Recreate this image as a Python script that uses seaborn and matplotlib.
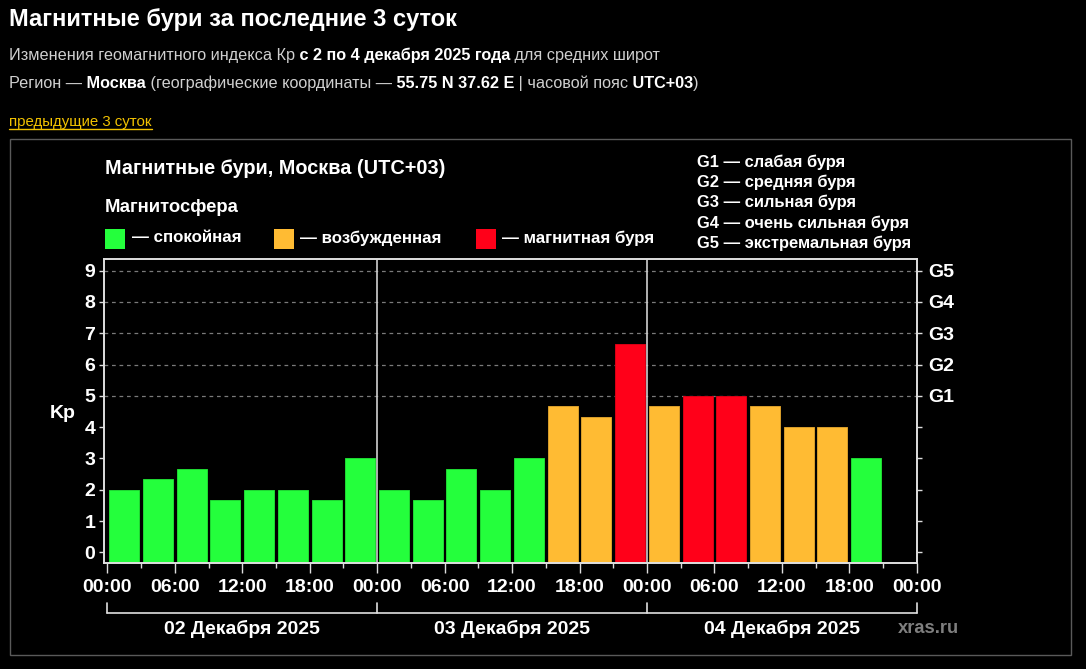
import pandas as pd
import seaborn as sns
import matplotlib.pyplot as plt
import matplotlib.colors as mcolors
from matplotlib.patches import Rectangle
from matplotlib.lines import Line2D
import matplotlib.transforms as mtransforms

# Kp index, 3-hour intervals, 2-4 Dec 2025 (Moscow, UTC+03)
kp_values = [2, 2.33, 2.67, 1.67, 2, 2, 1.67, 3,
             2, 1.67, 2.67, 2, 3, 4.67, 4.33, 6.67,
             4.67, 5, 5, 4.67, 4, 4, 3]
hour_ticks = [0, 6, 12, 18, 24, 30, 36, 42, 48, 54, 60, 66, 72]
hour_labels = ['00:00', '06:00', '12:00', '18:00'] * 3 + ['00:00']
day_bounds = [0, 24, 48, 72]
day_labels = ['02 Декабря 2025', '03 Декабря 2025', '04 Декабря 2025']
storm_labels = ['G1', 'G2', 'G3', 'G4', 'G5']
storm_names = ['G1 — слабая буря', 'G2 — средняя буря', 'G3 — сильная буря',
               'G4 — очень сильная буря', 'G5 — экстремальная буря']
state_keys = ['calm', 'active', 'storm']
state_names = ['— спокойная', '— возбужденная', '— магнитная буря']

palette = {'calm': '#24ff3c', 'active': '#ffbb33', 'storm': '#ff0019'}


def kp_state(v):
    if v < 4:
        return 'calm'
    if v < 5:
        return 'active'
    return 'storm'


df = pd.DataFrame({
    'hour': [3 * i + 1.5 for i in range(len(kp_values))],
    'kp': kp_values,
    'state': [kp_state(v) for v in kp_values],
})

sns.set_theme(style='dark')
plt.rcParams['font.family'] = ['Liberation Sans', 'DejaVu Sans']
plt.rcParams['axes.facecolor'] = 'black'
plt.rcParams['figure.facecolor'] = 'black'

W, H = 1086, 669
fig = plt.figure(figsize=(W / 100, H / 100), dpi=100)
ax = fig.add_axes([104 / W, 1 - 562.7 / H, (917.3 - 104) / W, (562.7 - 259.3) / H])

y0, y1 = -0.33, 9.36
tick_fs = 14

# G-level dashed lines and day separators
for g in range(5, 10):
    ax.axhline(g, color='#7a7a7a', lw=0.9, ls=(0, (3, 3)), zorder=0)
for d in day_bounds[1:-1]:
    ax.axvline(d, color='#d0d0d0', lw=1.2, zorder=3)

sns.barplot(data=df, x='hour', y='kp', hue='state', palette=palette,
            native_scale=True, dodge=False, width=0.89, saturation=1,
            legend=False, ax=ax, zorder=2)

# bars run down to the axis line
for p in ax.patches:
    h = p.get_height()
    p.set_y(y0)
    p.set_height(h - y0)
    fc = mcolors.to_rgb(p.get_facecolor())
    p.set_edgecolor(tuple(c * 0.85 for c in fc))
    p.set_linewidth(0.7)

ax.set_xlim(-0.3, 72.05)
ax.set_ylim(y0, y1)
ax.set_xlabel('')
ax.set_ylabel('')
ax.grid(False)

ax.set_yticks(range(10))
ax.set_yticklabels([str(i) for i in range(10)], fontsize=tick_fs, fontweight='bold', color='white')
ax.set_xticks(hour_ticks)
ax.set_xticklabels(hour_labels, fontsize=tick_fs, fontweight='bold', color='white')
ax.set_xticks([h + 3 for h in hour_ticks[:-1]], minor=True)
ax.tick_params(axis='x', which='major', length=7.2, width=1, color='#dddddd', pad=4.5, bottom=True)
ax.tick_params(axis='x', which='minor', length=3.6, width=1, color='#dddddd', bottom=True)
ax.tick_params(axis='y', length=3.3, width=1, color='#dddddd', pad=3, left=True)
for s in ax.spines.values():
    s.set_color('#e0e0e0')
    s.set_linewidth(1.2)

ax2 = ax.twinx()
ax2.set_ylim(y0, y1)
ax2.set_yticks(range(10))
ax2.set_yticklabels([''] * 5 + storm_labels, fontsize=tick_fs, fontweight='bold', color='white')
ax2.tick_params(axis='y', length=3.3, width=1, color='#dddddd', pad=4.3, right=True)
ax2.grid(False)
for s in ax2.spines.values():
    s.set_color('#e0e0e0')
    s.set_linewidth(1.2)

# date brackets under the time axis
trans = mtransforms.blended_transform_factory(ax.transData, ax.transAxes)
yb = (562.7 - 613) / (562.7 - 259.3)
yt = (562.7 - 603) / (562.7 - 259.3)
yl = (562.7 - 628.5) / (562.7 - 259.3)
ax.plot([day_bounds[0], day_bounds[-1]], [yb, yb], color='#e0e0e0', lw=1.2, transform=trans, clip_on=False)
for d in day_bounds:
    ax.plot([d, d], [yb, yt], color='#e0e0e0', lw=1.2, transform=trans, clip_on=False)
for i, lab in enumerate(day_labels):
    ax.text((day_bounds[i] + day_bounds[i + 1]) / 2, yl, lab, transform=trans,
            ha='center', va='center', fontsize=tick_fs, fontweight='bold', color='white')


def fx(px):
    return px / W


def fy(py):
    return 1 - py / H


fig.text(fx(898), fy(628.5), 'xras.ru', fontsize=13.2, fontweight='bold', color='#7f7f7f', va='center')
fig.text(fx(62.5), fy(414), 'Kp', fontsize=tick_fs, fontweight='bold', color='white', ha='center', va='center')

# chart header
fig.text(fx(105), fy(169), 'Магнитные бури, Москва (UTC+03)', fontsize=14.3, fontweight='bold', color='white', va='center')
fig.text(fx(105), fy(208), 'Магнитосфера', fontsize=13.3, fontweight='bold', color='white', va='center')
legend_x = [105, 273.5, 475.5]
for k, name, lx in zip(state_keys, state_names, legend_x):
    fig.add_artist(Rectangle((fx(lx), fy(249)), 20 / W, 20 / H, transform=fig.transFigure,
                             facecolor=palette[k], edgecolor='none'))
    fig.text(fx(lx + 27), fy(238), name, fontsize=12.2, fontweight='bold', color='white', va='center')
for i, name in enumerate(storm_names):
    fig.text(fx(697), fy(162 + 20.3 * i), name, fontsize=11.9, fontweight='bold', color='white', va='center')

# outer frame
fig.add_artist(Rectangle((fx(9.5), fy(655)), (1071 - 9.5) / W, (655 - 139) / H, transform=fig.transFigure,
                         facecolor='none', edgecolor='#5a5a5a', lw=1))

# page header
fig.text(fx(9), fy(26), 'Магнитные бури за последние 3 суток', fontsize=17, fontweight='bold',
         color='white', va='baseline')

renderer = fig.canvas.get_renderer()


def rich_line(x_px, y_px, parts, size):
    x = x_px
    for s, bold in parts:
        t = fig.text(fx(x), fy(y_px), s, fontsize=size, va='baseline',
                     fontweight='bold' if bold else 'normal',
                     color='white' if bold else '#cfcfcf')
        x += t.get_window_extent(renderer).width
    return x


rich_line(9, 60, [('Изменения геомагнитного индекса Кр', False),
                  (' с 2 по 4 декабря 2025 года', True),
                  (' для средних широт', False)], 11.7)
rich_line(9, 88, [('Регион —', False), (' Москва', True),
                  (' (географические координаты —', False), (' 55.75 N 37.62 E', True),
                  (' | часовой пояс', False), (' UTC+03', True), (')', False)], 11.7)

link = fig.text(fx(9), fy(126), 'предыдущие 3 суток', fontsize=10.8, color='#f2c200', va='baseline')
lw_px = link.get_window_extent(renderer).width
fig.add_artist(Line2D([fx(9), fx(9 + lw_px)], [fy(129), fy(129)], transform=fig.transFigure,
                      color='#f2c200', lw=1))

fig.savefig('out.png', dpi=100, facecolor='black')
